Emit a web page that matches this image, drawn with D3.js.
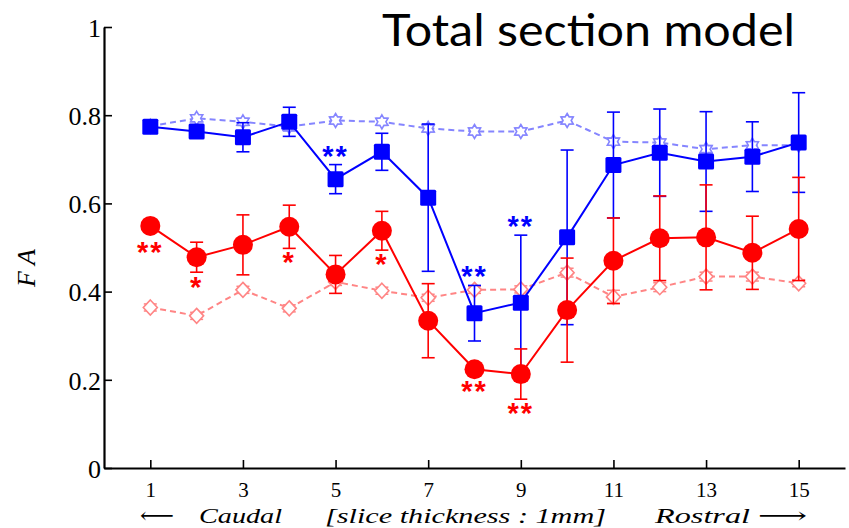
<!DOCTYPE html>
<html>
<head>
<meta charset="utf-8">
<script src="https://cdn.jsdelivr.net/npm/d3@7"></script>
<style>
  body { margin: 0; background: #fff; }
  svg { display: block; }
</style>
</head>
<body>
<div id="chart"></div>
<script>
'use strict';

// slice index 1..15
var slices = d3.range(1, 16);

// solid blue squares
var blueMean = [0.774, 0.763, 0.750, 0.785, 0.655, 0.717, 0.613, 0.351, 0.375, 0.523, 0.687, 0.715, 0.695, 0.706, 0.738];
var blueErr  = [0.008, 0.010, 0.033, 0.033, 0.033, 0.042, 0.167, 0.063, 0.153, 0.198, 0.120, 0.099, 0.113, 0.079, 0.113];

// solid red circles
var redMean = [0.549, 0.478, 0.506, 0.547, 0.439, 0.538, 0.334, 0.224, 0.213, 0.358, 0.470, 0.521, 0.523, 0.488, 0.542];
var redErr  = [0.010, 0.034, 0.068, 0.049, 0.043, 0.044, 0.084, 0.010, 0.057, 0.118, 0.097, 0.096, 0.119, 0.083, 0.117];

// dashed light blue hexagrams
var lightBlueMean = [0.775, 0.793, 0.785, 0.774, 0.788, 0.785, 0.770, 0.763, 0.763, 0.788, 0.740, 0.738, 0.723, 0.732, 0.732];
var lightBlueErr  = [0.008, 0.008, 0.008, 0.010, 0.008, 0.008, 0.008, 0.008, 0.008, 0.008, 0.008, 0.008, 0.008, 0.008, 0.008];

// dashed light red diamonds
var lightRedMean = [0.364, 0.345, 0.404, 0.362, 0.422, 0.402, 0.386, 0.404, 0.405, 0.443, 0.388, 0.410, 0.434, 0.434, 0.419];
var lightRedErr  = [0.008, 0.008, 0.008, 0.008, 0.008, 0.008, 0.008, 0.008, 0.008, 0.010, 0.015, 0.010, 0.010, 0.010, 0.008];

// significance marks: slice, position (FA units), text
var blueStars = [[5, 0.717, '**'], [8, 0.445, '**'], [9, 0.558, '**']];
var redStars  = [[1, 0.499, '**'], [2, 0.420, '*'], [4, 0.476, '*'], [6, 0.472, '*'], [8, 0.184, '**'], [9, 0.134, '**']];

var yTicks = [0, 0.2, 0.4, 0.6, 0.8, 1];
var xTicks = [1, 3, 5, 7, 9, 11, 13, 15];

var W = 849, H = 528;
var blue = '#0000ff', red = '#ff0000', lightBlue = '#8585ff', lightRed = '#ff8585';

var svg = d3.select('#chart').append('svg').attr('width', W).attr('height', H);

var x = d3.scaleLinear().domain([0, 16]).range([104, 845]);
var y = d3.scaleLinear().domain([0, 1]).range([468, 27]);

// ── Axes ──
var serif = '"Liberation Serif", "DejaVu Serif", serif';

var yAxis = svg.append('g').attr('transform', 'translate(' + x(0) + ',0)')
    .call(d3.axisLeft(y).tickValues(yTicks).tickSize(-8).tickSizeOuter(0).tickFormat(d3.format('~g')));
yAxis.select('.domain').attr('stroke-width', 2.2);
yAxis.selectAll('.tick line').attr('stroke-width', 1.6);
yAxis.selectAll('.tick text').attr('x', -3).attr('dy', '0.36em')
    .style('font-family', serif).style('font-size', '26px').attr('fill', '#000');

var xAxis = svg.append('g').attr('transform', 'translate(0,' + y(0) + ')')
    .call(d3.axisBottom(x).tickValues(xTicks).tickSize(-8).tickSizeOuter(0));
xAxis.select('.domain').attr('stroke-width', 2.2);
xAxis.selectAll('.tick line').attr('stroke-width', 1.6);
xAxis.selectAll('.tick text').attr('y', 29).attr('dy', 0)
    .style('font-family', serif).style('font-size', '21px').attr('fill', '#000');

// y label
svg.append('text')
    .attr('transform', 'translate(35,268) rotate(-90)')
    .attr('text-anchor', 'middle')
    .style('font-family', serif).style('font-style', 'italic').style('font-size', '26px')
    .text('F A');

// bottom caption
var caption = [
    {t: '\u27F5', x0: 140, x1: 174, italic: false},
    {t: 'Caudal', x0: 199, x1: 282, italic: true},
    {t: '[slice thickness : 1mm]', x0: 325, x1: 606, italic: true},
    {t: 'Rostral', x0: 655, x1: 750, italic: true},
    {t: '\u27F6', x0: 758, x1: 807, italic: false}
];
svg.selectAll('.cap').data(caption).enter().append('text')
    .attr('class', 'cap')
    .attr('x', function(d) { return d.x0; })
    .attr('y', 523)
    .attr('textLength', function(d) { return d.x1 - d.x0; })
    .attr('lengthAdjust', 'spacingAndGlyphs')
    .style('font-family', serif).style('font-size', '22px')
    .style('font-style', function(d) { return d.italic ? 'italic' : 'normal'; })
    .text(function(d) { return d.t; });

// title
svg.append('text')
    .attr('x', 382).attr('y', 46)
    .attr('textLength', 413).attr('lengthAdjust', 'spacingAndGlyphs')
    .style('font-family', 'Lato, "Open Sans", sans-serif').style('font-size', '45px')
    .text('Total section model');

// ── Series ──
function rows(mean, err) {
    return slices.map(function(s, i) { return {s: s, v: mean[i], e: err[i]}; });
}

var line = d3.line().x(function(d) { return x(d.s); }).y(function(d) { return y(d.v); });

function errorBars(g, data, color, width) {
    var eb = g.selectAll('.eb').data(data).enter().append('g').attr('class', 'eb')
        .attr('stroke', color).attr('stroke-width', width);
    eb.append('line')
        .attr('x1', function(d) { return x(d.s); }).attr('x2', function(d) { return x(d.s); })
        .attr('y1', function(d) { return y(d.v - d.e); }).attr('y2', function(d) { return y(d.v + d.e); });
    [-1, 1].forEach(function(k) {
        eb.append('line')
            .attr('x1', function(d) { return x(d.s) - 6.5; }).attr('x2', function(d) { return x(d.s) + 6.5; })
            .attr('y1', function(d) { return y(d.v + k * d.e); }).attr('y2', function(d) { return y(d.v + k * d.e); });
    });
}

function hexagram(r) {
    var pts = [];
    for (var i = 0; i < 12; i++) {
        var a = -Math.PI / 2 + i * Math.PI / 6;
        var rr = i % 2 ? r * 0.58 : r;
        pts.push([rr * Math.cos(a), rr * Math.sin(a)]);
    }
    return 'M' + pts.join('L') + 'Z';
}

// light red dashed
var lr = rows(lightRedMean, lightRedErr);
var gLR = svg.append('g');
errorBars(gLR, lr, lightRed, 1.5);
gLR.append('path').datum(lr).attr('d', line).attr('fill', 'none')
    .attr('stroke', lightRed).attr('stroke-width', 2).attr('stroke-dasharray', '6,4');
gLR.selectAll('.dia').data(lr).enter().append('path')
    .attr('transform', function(d) { return 'translate(' + x(d.s) + ',' + y(d.v) + ')'; })
    .attr('d', 'M0,-7.5L7,0L0,7.5L-7,0Z')
    .attr('fill', '#fff').attr('stroke', lightRed).attr('stroke-width', 1.6);

// light blue dashed
var lb = rows(lightBlueMean, lightBlueErr);
var gLB = svg.append('g');
errorBars(gLB, lb, lightBlue, 1.5);
gLB.append('path').datum(lb).attr('d', line).attr('fill', 'none')
    .attr('stroke', lightBlue).attr('stroke-width', 2).attr('stroke-dasharray', '6,4');
gLB.selectAll('.hex').data(lb).enter().append('path')
    .attr('transform', function(d) { return 'translate(' + x(d.s) + ',' + y(d.v) + ')'; })
    .attr('d', hexagram(7))
    .attr('fill', '#fff').attr('stroke', lightBlue).attr('stroke-width', 1.6);

// blue squares
var bl = rows(blueMean, blueErr);
var gB = svg.append('g');
errorBars(gB, bl, blue, 1.6);
gB.append('path').datum(bl).attr('d', line).attr('fill', 'none')
    .attr('stroke', blue).attr('stroke-width', 2);
gB.selectAll('.sq').data(bl).enter().append('rect')
    .attr('x', function(d) { return x(d.s) - 8; }).attr('y', function(d) { return y(d.v) - 8; })
    .attr('width', 16).attr('height', 16).attr('rx', 1.5).attr('fill', blue);

// red circles
var rd = rows(redMean, redErr);
var gR = svg.append('g');
errorBars(gR, rd, red, 1.6);
gR.append('path').datum(rd).attr('d', line).attr('fill', 'none')
    .attr('stroke', red).attr('stroke-width', 2);
gR.selectAll('.ci').data(rd).enter().append('circle')
    .attr('cx', function(d) { return x(d.s); }).attr('cy', function(d) { return y(d.v); })
    .attr('r', 10).attr('fill', red);

// significance stars
function stars(list, color) {
    svg.selectAll(null).data(list).enter().append('text')
        .attr('x', function(d) { return x(d[0]); })
        .attr('y', function(d) { return y(d[1]) + 14; })
        .attr('text-anchor', 'middle')
        .style('font-family', '"Liberation Sans", Arial, sans-serif')
        .style('font-weight', 'bold').style('font-size', '29px').style('letter-spacing', '2px')
        .attr('fill', color)
        .text(function(d) { return d[2]; });
}
stars(blueStars, blue);
stars(redStars, red);
</script>
</body>
</html>
